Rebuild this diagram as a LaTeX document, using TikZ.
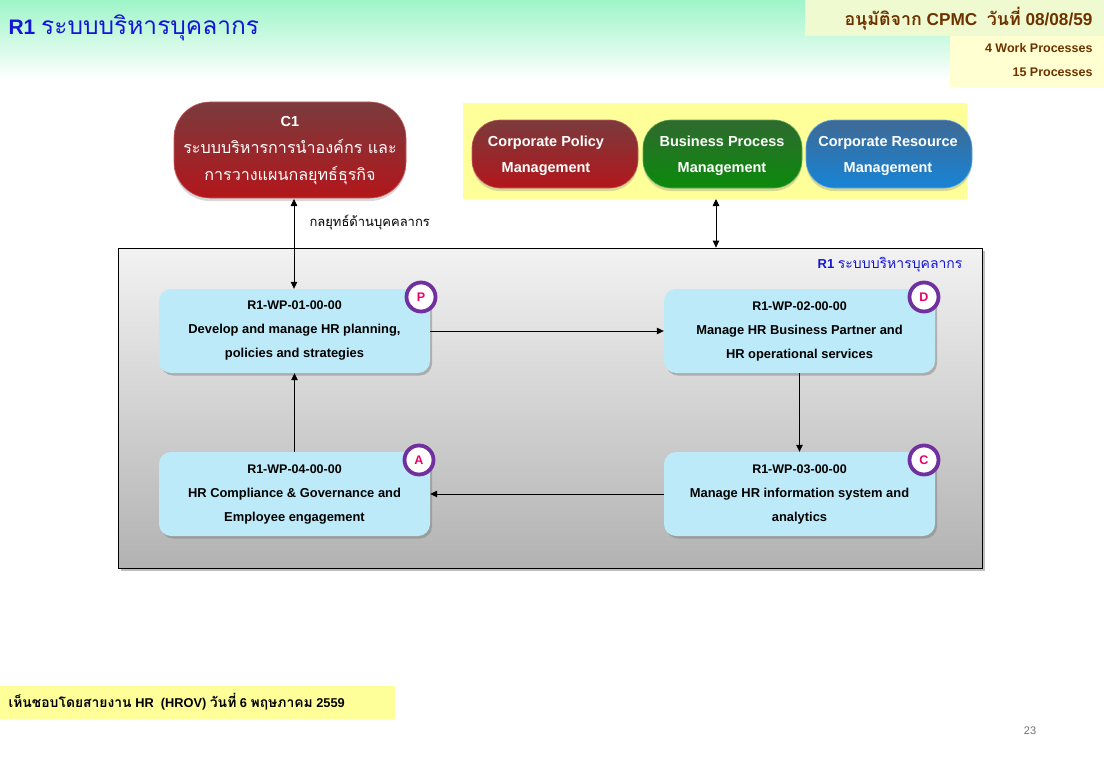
\documentclass[tikz,border=0pt]{standalone}
\usepackage{fontspec}
\setmainfont{Liberation Sans}
\newfontfamily\thai[Script=Thai]{Loma}
\usetikzlibrary{arrows.meta,shadows,calc}
\definecolor{topgreen}{HTML}{9EF5C8}
\definecolor{topcyan}{HTML}{D2FFFF}
\definecolor{titleblue}{HTML}{1515D8}
\definecolor{brownt}{HTML}{6E3200}
\definecolor{lightyel}{HTML}{FFFFD2}
\definecolor{lightyelg}{HTML}{F0FAD0}
\definecolor{yel}{HTML}{FFFF99}
\definecolor{wpblue}{HTML}{BDEAF8}
\definecolor{badgepurple}{HTML}{7030A0}
\definecolor{badgetext}{HTML}{E8006E}
\definecolor{redtop}{HTML}{7A3B3D}
\definecolor{redbot}{HTML}{B3161B}
\definecolor{greentop}{HTML}{2F6A2F}
\definecolor{greenbot}{HTML}{0B8A0B}
\definecolor{bluetop}{HTML}{3F6A95}
\definecolor{bluebot}{HTML}{1784D6}
\definecolor{graytop}{HTML}{F2F2F2}
\definecolor{graybot}{HTML}{B2B2B2}
\tikzset{
  wp/.style={draw=none, fill=wpblue, rounded corners=12pt, minimum width=271pt, minimum height=84pt,
    align=center, font=\bfseries\fontsize{12.5}{24}\selectfont, text=black,
    drop shadow={shadow xshift=2pt, shadow yshift=-2.5pt, opacity=0.5}},
  badge/.style={circle, draw=badgepurple, line width=3.8pt, fill=white, minimum size=29pt, inner sep=0pt,
    font=\bfseries\fontsize{12.5}{12}\selectfont, text=badgetext,
    drop shadow={shadow xshift=1.5pt, shadow yshift=-1.5pt, opacity=0.4}},
  pilltext/.style={text=white, align=center, font=\bfseries\fontsize{14.5}{26}\selectfont},
  pillshape/.style={line width=0.6pt, rounded corners=28pt,
    drop shadow={shadow xshift=0pt, shadow yshift=-3pt, opacity=0.3}},
  conn/.style={draw=black, line width=0.8pt, -{Triangle[length=7pt,width=6.5pt]}},
  dconn/.style={draw=black, line width=0.8pt, {Triangle[length=7pt,width=6.5pt]}-{Triangle[length=7pt,width=6.5pt]}},
}
\newcommand{\bodyf}{\fontsize{12.9}{24}\selectfont}
\begin{document}
\begin{tikzpicture}[x=1pt,y=-1pt]
\useasboundingbox (0,0) rectangle (1104,768);
\fill[white] (0,0) rectangle (1104,768);
\shade[top color=topgreen, middle color=topcyan, bottom color=white] (0,0) rectangle (1104,80);
% top right boxes
\fill[lightyelg] (805,0) rectangle (1104,36);
\fill[lightyel] (950,36) rectangle (1104,87);
\node[anchor=east, text=brownt, font=\bfseries\fontsize{17.2}{20}\selectfont] (approve) at (1096,19)
  {{\thai\fontsize{17.8}{20}\selectfont อนุมัติจาก} CPMC\ \ {\thai\fontsize{17.8}{20}\selectfont วันที่} 08/08/59};
\node[anchor=east, text=brownt, font=\bfseries\fontsize{12.5}{13}\selectfont] (wpcount) at (1096,48) {4 Work Processes};
\node[anchor=east, text=brownt, font=\bfseries\fontsize{12.5}{13}\selectfont] (pcount) at (1096,72) {15 Processes};
% title
\node[anchor=west, text=titleblue, font=\bfseries\fontsize{21}{24}\selectfont] (title) at (5,28)
  {R1 {\thai\mdseries\fontsize{24.5}{28}\selectfont ระบบบริหารบุคลากร}};
% C1 pill
\shade[top color=redtop, bottom color=redbot, draw=redbot!70!white, line width=0.6pt, rounded corners=36pt,
  drop shadow={shadow xshift=0pt, shadow yshift=-3pt, opacity=0.3}]
  (174,102) rectangle (406,198);
\node[text=white, align=center, font=\bfseries\fontsize{14.5}{27}\selectfont] (c1) at (290,151)
  {C1\\{\thai\mdseries\fontsize{16.1}{27}\selectfont ระบบบริหารการนำองค์กร และ}\\{\thai\mdseries\fontsize{16.1}{27}\selectfont การวางแผนกลยุทธ์ธุรกิจ}};
\coordinate (c1b) at (294,199);
% yellow group
\fill[yel] (463,103) rectangle (967,199);
\coordinate (ybb) at (716,199);
\shade[pillshape, top color=redtop, bottom color=redbot, draw=redbot!70!white] (472,120) rectangle (638,188);
\node[pilltext] (cpm) at (546,156) {Corporate Policy\\Management};
\shade[pillshape, top color=greentop, bottom color=greenbot, draw=greenbot!70!white] (643,120) rectangle (802,188);
\node[pilltext] (bpm) at (722,156) {Business Process\\Management};
\shade[pillshape, top color=bluetop, bottom color=bluebot, draw=bluebot!70!white] (806,120) rectangle (972,188);
\node[pilltext] (crm) at (888,156) {Corporate Resource\\Management};
% big gray box
\node[draw=black, line width=0.8pt, minimum width=864pt, minimum height=320pt, top color=graytop, bottom color=graybot,
  drop shadow={shadow xshift=3pt, shadow yshift=-3pt, opacity=0.5}] (r1) at (550,408) {};
\node[anchor=east, text=titleblue, font=\bfseries\fontsize{13}{14}\selectfont] (r1lab) at (966,265)
  {R1 {\thai\mdseries\fontsize{14}{16}\selectfont ระบบบริหารบุคลากร}};
% WP boxes
\node[wp] (wp1) at (294.5,331) {R1-WP-01-00-00\\{\bodyf Develop and manage HR planning,}\\{\bodyf policies and strategies}};
\node[wp] (wp2) at (799.5,331) {R1-WP-02-00-00\\{\bodyf Manage HR Business Partner and}\\{\bodyf HR operational services}};
\node[wp] (wp4) at (294.5,494) {R1-WP-04-00-00\\{\bodyf HR Compliance \& Governance and}\\{\bodyf Employee engagement}};
\node[wp] (wp3) at (799.5,494) {R1-WP-03-00-00\\{\bodyf Manage HR information system and}\\{\bodyf analytics}};
% badges
\node[badge] (bp) at (421,297) {P};
\node[badge] (bd) at (924,297) {D};
\node[badge] (ba) at (419,460) {A};
\node[badge] (bc) at (924,460) {C};
% connectors
\draw[dconn] (c1b) -- (c1b |- wp1.north);
\node[anchor=west, font=\fontsize{13}{15}\selectfont\thai] (hrlab) at (306,222) {กลยุทธ์ด้านบุคคลากร};
\draw[dconn] (ybb) -- (ybb |- r1.north);
\draw[conn] (wp1.east) -- (wp2.west);
\draw[conn] (wp2.south) -- (wp3.north);
\draw[conn] (wp3.west) -- (wp4.east);
\draw[conn] (wp4.north) -- (wp1.south);
% footer
\fill[yel] (0,686) rectangle (395,719);
\node[anchor=west, font=\bfseries\fontsize{12.8}{15}\selectfont] (foot) at (5,702)
  {{\thai\fontsize{13.9}{15}\selectfont เห็นชอบโดยสายงาน} HR\ \ (HROV) {\thai\fontsize{13.9}{15}\selectfont วันที่} 6 {\thai\fontsize{13.9}{15}\selectfont พฤษภาคม} 2559};
\node[text=black!55, font=\fontsize{11}{13}\selectfont] (pg) at (1030,731) {23};
\end{tikzpicture}
\end{document}
